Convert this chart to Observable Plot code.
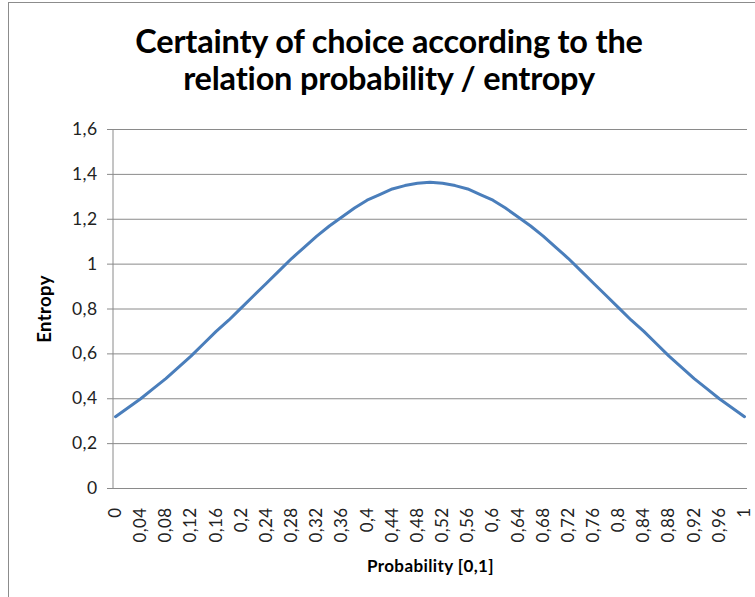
<!DOCTYPE html>
<html>
<head>
<meta charset="utf-8">
<script src="https://cdn.jsdelivr.net/npm/d3@7"></script>
<script src="https://cdn.jsdelivr.net/npm/@observablehq/plot@0.6"></script>
<style>
  html, body { margin: 0; padding: 0; background: #fff; overflow: hidden; }
  #wrap { position: relative; width: 755px; height: 597px; overflow: hidden; font-family: Lato, "Open Sans", sans-serif; }
  #border { position: absolute; left: 8px; top: 2px; width: 900px; height: 900px; border-left: 1.5px solid #8c8c8c; border-top: 1.5px solid #8c8c8c; }
  #title { position: absolute; left: 0; width: 778px; top: 22px; text-align: center; font-weight: 700; font-size: 32.5px; line-height: 37px; color: #000; letter-spacing: -0.2px; }
  #chart { position: absolute; left: 0; top: 110px; }
  #chart svg text { letter-spacing: 0.4px; }
</style>
</head>
<body>
<div id="wrap">
  <div id="border"></div>
  <div id="title">Certainty of choice according to the<br>relation probability / entropy</div>
  <div id="chart"></div>
</div>
<script>
const probability = [0, 0.02, 0.04, 0.06, 0.08, 0.1, 0.12, 0.14, 0.16, 0.18, 0.2, 0.22, 0.24, 0.26, 0.28, 0.3, 0.32, 0.34, 0.36, 0.38, 0.4, 0.42, 0.44, 0.46, 0.48, 0.5,
  0.52, 0.54, 0.56, 0.58, 0.6, 0.62, 0.64, 0.66, 0.68, 0.7, 0.72, 0.74, 0.76, 0.78, 0.8, 0.82, 0.84, 0.86, 0.88, 0.9, 0.92, 0.94, 0.96, 0.98, 1];
const entropy = [0.32, 0.36, 0.40, 0.445, 0.49, 0.54, 0.59, 0.645, 0.70, 0.75, 0.805, 0.86, 0.915, 0.97, 1.025, 1.075, 1.125, 1.17, 1.21, 1.25, 1.285, 1.31, 1.335, 1.35, 1.36, 1.365,
  1.36, 1.35, 1.335, 1.31, 1.285, 1.25, 1.21, 1.17, 1.125, 1.075, 1.025, 0.97, 0.915, 0.86, 0.805, 0.75, 0.70, 0.645, 0.59, 0.54, 0.49, 0.445, 0.40, 0.36, 0.32];
const xTicks = [0, 0.04, 0.08, 0.12, 0.16, 0.2, 0.24, 0.28, 0.32, 0.36, 0.4, 0.44, 0.48, 0.52, 0.56, 0.6, 0.64, 0.68, 0.72, 0.76, 0.8, 0.84, 0.88, 0.92, 0.96, 1];
const yTicks = [0, 0.2, 0.4, 0.6, 0.8, 1, 1.2, 1.4, 1.6];

const data = probability.map((p, i) => ({p, e: entropy[i]}));
const comma = d => String(d).replace(".", ",");
const gridColor = "#8a8a8a";

const leftAxisLine = (index, scales, values, dims) => {
  const l = d3.create("svg:line")
    .attr("x1", dims.marginLeft).attr("x2", dims.marginLeft)
    .attr("y1", dims.marginTop).attr("y2", dims.height - dims.marginBottom)
    .attr("stroke", gridColor).attr("stroke-width", 1);
  return l.node();
};

const chart = Plot.plot({
  width: 755,
  height: 487,
  marginLeft: 113,
  marginRight: 8,
  marginTop: 19,
  marginBottom: 109,
  style: {fontFamily: "Lato, 'Open Sans', sans-serif", background: "transparent", color: "#222"},
  x: {domain: [0, 1], insetLeft: 2, insetRight: 3},
  y: {domain: [0, 1.6]},
  marks: [
    Plot.ruleY(yTicks, {stroke: gridColor, strokeWidth: 1}),
    leftAxisLine,
    Plot.axisY({ticks: yTicks, tickFormat: comma, tickSize: 6, tickPadding: 10, stroke: gridColor, fontSize: 17.5, label: null}),
    Plot.axisX({ticks: xTicks, tickFormat: comma, tickSize: 0, tickPadding: 19, tickRotate: -90, fontSize: 17, label: null}),
    Plot.line(data, {x: "p", y: "e", stroke: "#4a7ebb", strokeWidth: 3}),
    Plot.text(["Entropy"], {frameAnchor: "left", textAnchor: "middle", dx: -68, rotate: -90, fontWeight: "bold", fontSize: 18.5, fill: "#000"}),
    Plot.text(["Probability [0,1]"], {frameAnchor: "bottom", dy: 83, fontWeight: "bold", fontSize: 17, fill: "#000"})
  ]
});
document.getElementById("chart").appendChild(chart);
</script>
</body>
</html>
